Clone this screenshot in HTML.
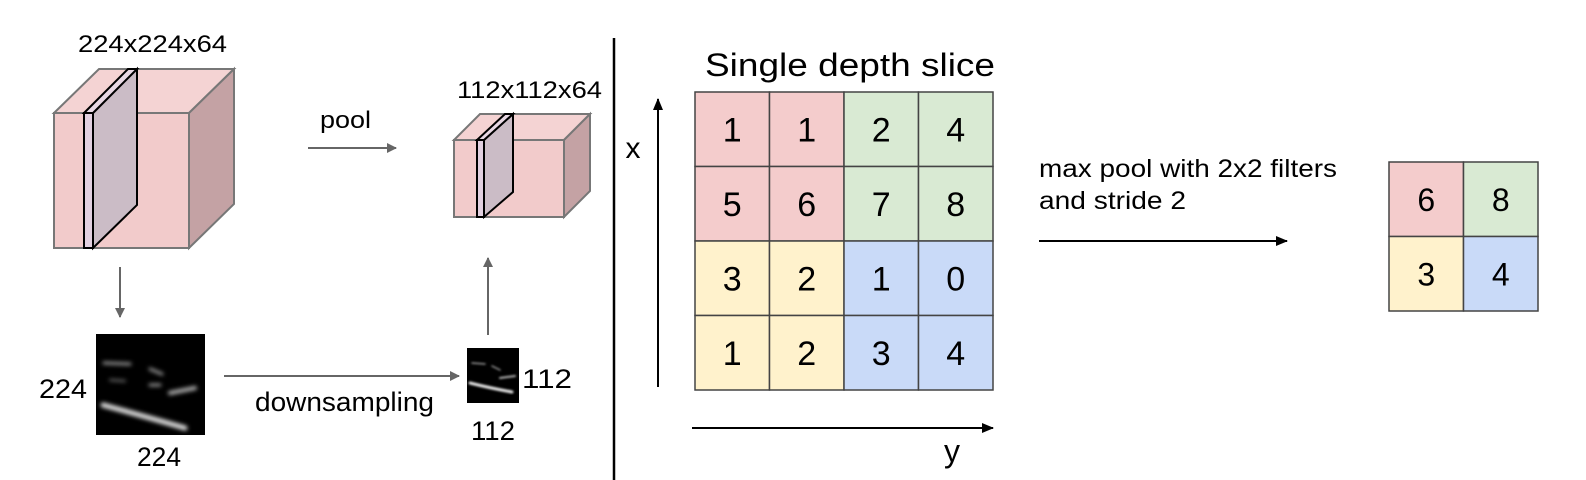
<!DOCTYPE html>
<html><head><meta charset="utf-8"><style>
html,body{margin:0;padding:0;background:#fff;}
svg{display:block;font-family:"Liberation Sans",Arial,sans-serif;}
</style></head><body>
<svg id="s" width="1586" height="480" viewBox="0 0 1586 480" xmlns="http://www.w3.org/2000/svg">
<defs>
<marker id="ag" markerWidth="10" markerHeight="10" refX="9" refY="5" orient="auto" markerUnits="userSpaceOnUse"><path d="M0,0 L10,5 L0,10 z" fill="#666"/></marker>
<marker id="ab" markerWidth="12" markerHeight="10" refX="11" refY="5" orient="auto" markerUnits="userSpaceOnUse"><path d="M0,0 L12,5 L0,10 z" fill="#000"/></marker>
<filter id="bl"><feGaussianBlur stdDeviation="2"/></filter>
<filter id="bl2"><feGaussianBlur stdDeviation="1"/></filter>
</defs>

<g>
<polygon points="54,113 99,69 234,69 189,113" fill="#f4d3d3" stroke="#777" stroke-width="2"/>
<polygon points="189,113 234,69 234,204 189,248" fill="#c4a2a4" stroke="#777" stroke-width="2"/>
<rect x="54" y="113" width="135" height="135" fill="#f2cbcb" stroke="#777" stroke-width="2"/>
<g>
<polygon points="93,113 137,69 137,205 93,248" fill="#cbbcc6" stroke="#000" stroke-width="2"/>
<polygon points="84,113 128,69 137,69 93,113" fill="#e8d8e4" stroke="#000" stroke-width="2"/>
<rect x="84" y="113" width="9" height="135" fill="#e2d0e0" stroke="#000" stroke-width="2"/>
</g>
</g>
<text x="78" y="52" font-size="24" textLength="149" lengthAdjust="spacingAndGlyphs">224x224x64</text>

<text x="320" y="128" font-size="24" textLength="51" lengthAdjust="spacingAndGlyphs">pool</text>
<line x1="308" y1="148" x2="396" y2="148" stroke="#666" stroke-width="2" marker-end="url(#ag)"/>

<g>
<polygon points="454,140 480,114 590,114 564,140" fill="#f4d3d3" stroke="#777" stroke-width="2"/>
<polygon points="564,140 590,114 590,191 564,217" fill="#c4a2a4" stroke="#777" stroke-width="2"/>
<rect x="454" y="140" width="110" height="77" fill="#f2cbcb" stroke="#777" stroke-width="2"/>
<g>
<polygon points="484,140 513,114 513,192 484,217" fill="#cbbcc6" stroke="#000" stroke-width="2"/>
<polygon points="477,140 505,114 513,114 484,140" fill="#e8d8e4" stroke="#000" stroke-width="2"/>
<rect x="477" y="140" width="7" height="77" fill="#e2d0e0" stroke="#000" stroke-width="2"/>
</g>
</g>
<text x="457" y="98" font-size="24" textLength="145" lengthAdjust="spacingAndGlyphs">112x112x64</text>

<line x1="120" y1="267" x2="120" y2="317" stroke="#666" stroke-width="2" marker-end="url(#ag)"/>

<g>
<rect x="96" y="334" width="109" height="101" fill="#000"/>
<g filter="url(#bl)" stroke="#fff" fill="none" stroke-linecap="round">
<path d="M103,405 Q140,415 185,428" stroke-width="5" opacity="0.9"/>
<path d="M104,363 L130,364" stroke-width="3" opacity="0.6"/>
<path d="M150,369 L162,374" stroke-width="3" opacity="0.6"/>
<path d="M110,380 L125,381" stroke-width="2" opacity="0.5"/>
<path d="M150,385 L160,385" stroke-width="3" opacity="0.6"/>
<path d="M170,393 L195,388" stroke-width="4" opacity="0.7"/>
</g>
</g>
<text x="39" y="398" font-size="27" textLength="48" lengthAdjust="spacingAndGlyphs">224</text>
<text x="137" y="466" font-size="27" textLength="44" lengthAdjust="spacingAndGlyphs">224</text>

<line x1="224" y1="376" x2="459" y2="376" stroke="#666" stroke-width="2" marker-end="url(#ag)"/>
<text x="255" y="411" font-size="27" textLength="179" lengthAdjust="spacingAndGlyphs">downsampling</text>

<g>
<rect x="467" y="348" width="52" height="55" fill="#000"/>
<g filter="url(#bl2)" stroke="#fff" fill="none" stroke-linecap="round">
<path d="M470,383 Q490,388 512,392" stroke-width="3" opacity="0.9"/>
<path d="M472,363 L485,364" stroke-width="1.5" opacity="0.6"/>
<path d="M492,366 L500,370" stroke-width="1.5" opacity="0.6"/>
<path d="M500,378 L515,376" stroke-width="2" opacity="0.7"/>
</g>
</g>
<text x="522" y="388" font-size="27" textLength="50" lengthAdjust="spacingAndGlyphs">112</text>
<text x="471" y="440" font-size="27" textLength="44" lengthAdjust="spacingAndGlyphs">112</text>
<line x1="488" y1="335" x2="488" y2="258" stroke="#666" stroke-width="2" marker-end="url(#ag)"/>

<line x1="614" y1="38" x2="614" y2="480" stroke="#000" stroke-width="2.5"/>

<text x="705" y="76" font-size="32" textLength="290" lengthAdjust="spacingAndGlyphs">Single depth slice</text>
<line x1="658" y1="387" x2="658" y2="99" stroke="#000" stroke-width="2" marker-end="url(#ab)"/>
<text x="633" y="158" font-size="30" text-anchor="middle">x</text>
<line x1="692" y1="428" x2="993" y2="428" stroke="#000" stroke-width="2" marker-end="url(#ab)"/>
<text x="952" y="462" font-size="32" text-anchor="middle">y</text>
<g id="grid"></g>

<text x="1039" y="177" font-size="25" textLength="298" lengthAdjust="spacingAndGlyphs">max pool with 2x2 filters</text>
<text x="1039" y="209" font-size="25" textLength="147" lengthAdjust="spacingAndGlyphs">and stride 2</text>
<line x1="1039" y1="241" x2="1287" y2="241" stroke="#000" stroke-width="2" marker-end="url(#ab)"/>
<g id="out"></g>
</svg>
<script>
const inputValues = [[1,1,2,4],[5,6,7,8],[3,2,1,0],[1,2,3,4]];
const outputValues = [[6,8],[3,4]];
const quadColors = ["#f4cccc","#d9ead3","#fff2cc","#c9daf8"];
const NS = "http://www.w3.org/2000/svg";
function drawGrid(g, vals, x0, y0, w, h, block, fs, name) {
  const rows = vals.length, cols = vals[0].length;
  const cw = w / cols, ch = h / rows;
  vals.forEach((row, r) => row.forEach((v, c) => {
    const q = (Math.floor(r / block) * 2) + Math.floor(c / block);
    const rect = document.createElementNS(NS, "rect");
    rect.setAttribute("x", x0 + c * cw); rect.setAttribute("y", y0 + r * ch);
    rect.setAttribute("width", cw); rect.setAttribute("height", ch);
    rect.setAttribute("fill", quadColors[q]); rect.setAttribute("stroke", "#444"); rect.setAttribute("stroke-width", "1.5");
    
    
    g.appendChild(rect);
    const t = document.createElementNS(NS, "text");
    t.setAttribute("x", x0 + (c + 0.5) * cw); t.setAttribute("y", y0 + (r + 0.5) * ch + fs * 0.36);
    t.setAttribute("text-anchor", "middle"); t.setAttribute("font-size", fs);
    t.textContent = v;
    
    
    g.appendChild(t);
  }));
}
drawGrid(document.getElementById("grid"), inputValues, 695, 92, 298, 298, 2, 34, "input");
drawGrid(document.getElementById("out"), outputValues, 1389, 162, 149, 149, 1, 32, "output");
</script>
</body></html>
